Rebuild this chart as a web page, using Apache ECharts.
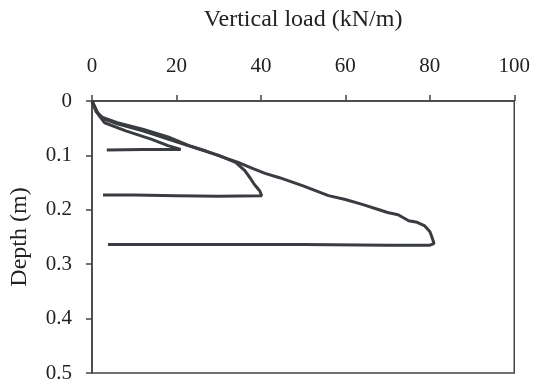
<!DOCTYPE html>
<html>
<head>
<meta charset="utf-8">
<script src="https://cdn.jsdelivr.net/npm/echarts@6/dist/echarts.min.js"></script>
<style>html,body{margin:0;padding:0;background:#fff}#c{width:533px;height:390px}</style>
</head>
<body>
<div id="c"></div>
<script>
var xTicks = [0, 20, 40, 60, 80, 100];
var yTicks = [0, 0.1, 0.2, 0.3, 0.4, 0.5];
// Test 1: load (kN/m), depth (m)
var test1Load  = [0, 1.5, 3, 8, 14, 18, 21, 12, 3.5];
var test1Depth = [0, 0.025, 0.04, 0.055, 0.07, 0.082, 0.089, 0.089, 0.09];
// Test 2
var test2Load  = [0, 1.2, 2.5, 6, 12, 18, 24, 30, 34, 36.2, 37.5, 38.5, 39.7, 40.2, 30, 20, 10, 2.6];
var test2Depth = [0, 0.02, 0.032, 0.042, 0.055, 0.07, 0.085, 0.1, 0.113, 0.128, 0.142, 0.154, 0.165, 0.174, 0.175, 0.174, 0.173, 0.173];
// Test 3
var test3Load  = [0, 1, 2.5, 6, 12, 18, 23, 27, 32, 35, 38, 41, 44.4, 50, 56, 60, 64, 68, 70, 72.5, 75, 77, 78.7, 80, 80.5, 81, 80, 70, 50, 30, 10, 3.8];
var test3Depth = [0, 0.02, 0.03, 0.04, 0.052, 0.066, 0.082, 0.092, 0.106, 0.114, 0.124, 0.133, 0.141, 0.156, 0.174, 0.181, 0.19, 0.2, 0.205, 0.209, 0.22, 0.223, 0.229, 0.24, 0.25, 0.262, 0.265, 0.265, 0.264, 0.264, 0.264, 0.264];

function pairs(a, b) { return a.map(function (v, i) { return [v, b[i]]; }); }

var font = '"Liberation Serif", "DejaVu Serif", serif';
var lineColor = '#393c40';
function series(a, b) {
  return {
    type: 'line', data: pairs(a, b), showSymbol: false, smooth: false,
    lineStyle: { color: lineColor, width: 3 }, silent: true, animation: false
  };
}

var chart = echarts.init(document.getElementById('c'));
chart.setOption({
  animation: false,
  grid: { left: 92, right: 17, top: 101, bottom: 17, show: true, borderColor: '#444', borderWidth: 1.5, backgroundColor: 'transparent' },
  xAxis: {
    type: 'value', position: 'top', min: 0, max: 100, interval: 20,
    name: 'Vertical load (kN/m)', nameLocation: 'middle', nameGap: 69,
    nameTextStyle: { fontFamily: font, fontSize: 24, color: '#222' },
    axisLine: { show: true, lineStyle: { color: '#444', width: 1.5 } },
    axisTick: { show: true, inside: false, length: 6, lineStyle: { color: '#444', width: 1.5 } },
    axisLabel: { fontFamily: font, fontSize: 21, color: '#222', margin: 24 },
    splitLine: { show: false }
  },
  yAxis: {
    type: 'value', inverse: true, min: 0, max: 0.5, interval: 0.1,
    name: 'Depth (m)', nameLocation: 'middle', nameGap: 60, nameRotate: 90,
    nameTextStyle: { fontFamily: font, fontSize: 24, color: '#222' },
    axisLine: { show: true, lineStyle: { color: '#444', width: 1.5 } },
    axisTick: { show: true, inside: false, length: 6, lineStyle: { color: '#444', width: 1.5 } },
    axisLabel: { fontFamily: font, fontSize: 21, color: '#222', margin: 20,
      formatter: function (v) { return v === 0 ? '0' : (+v.toFixed(1)).toString(); } },
    splitLine: { show: false }
  },
  series: [series(test1Load, test1Depth), series(test2Load, test2Depth), series(test3Load, test3Depth)]
});
</script>
</body>
</html>
